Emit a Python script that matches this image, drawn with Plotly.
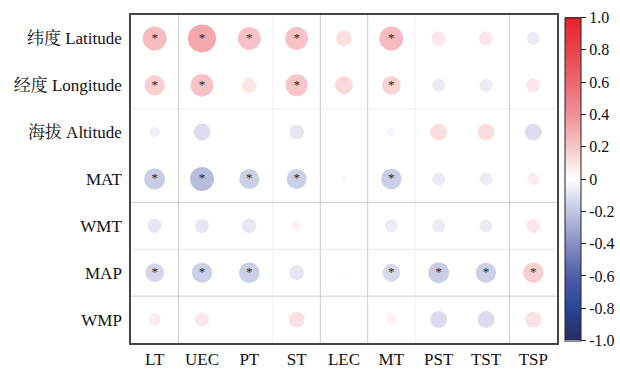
import plotly.graph_objects as go

rows = ["纬度 Latitude", "经度 Longitude", "海拔 Altitude", "MAT", "WMT", "MAP", "WMP"]
cols = ["LT", "UEC", "PT", "ST", "LEC", "MT", "PST", "TST", "TSP"]

r_lat = [0.34, 0.47, 0.31, 0.31, 0.15, 0.34, 0.12, 0.12, -0.10]
r_lon = [0.24, 0.31, 0.13, 0.29, 0.19, 0.21, -0.10, -0.10, 0.12]
r_alt = [-0.07, -0.17, 0.0, -0.13, 0.0, -0.04, 0.17, 0.17, -0.17]
r_mat = [-0.26, -0.34, -0.24, -0.24, 0.03, -0.25, -0.10, -0.10, 0.09]
r_wmt = [-0.12, -0.12, -0.12, 0.06, 0.0, -0.10, -0.10, -0.10, 0.12]
r_map = [-0.21, -0.24, -0.25, -0.13, 0.02, -0.19, -0.26, -0.24, 0.25]
r_wmp = [0.09, 0.12, 0.0, 0.15, 0.0, 0.07, -0.17, -0.17, 0.15]

sig_lat = [1, 1, 1, 1, 0, 1, 0, 0, 0]
sig_lon = [1, 1, 0, 1, 0, 1, 0, 0, 0]
sig_alt = [0, 0, 0, 0, 0, 0, 0, 0, 0]
sig_mat = [1, 1, 1, 1, 0, 1, 0, 0, 0]
sig_wmt = [0, 0, 0, 0, 0, 0, 0, 0, 0]
sig_map = [1, 1, 1, 0, 0, 1, 1, 1, 1]
sig_wmp = [0, 0, 0, 0, 0, 0, 0, 0, 0]

cbar_vals = [1.0, 0.8, 0.6, 0.4, 0.2, 0, -0.2, -0.4, -0.6, -0.8, -1.0]
cbar_text = ["1.0", "0.8", "0.6", "0.4", "0.2", "0", "-0.2", "-0.4", "-0.6", "-0.8", "-1.0"]

R = [r_lat, r_lon, r_alt, r_mat, r_wmt, r_map, r_wmp]
S = [sig_lat, sig_lon, sig_alt, sig_mat, sig_wmt, sig_map, sig_wmp]

xs, ys, vs, sz, tx = [], [], [], [], []
for i, row in enumerate(R):
    for j, v in enumerate(row):
        xs.append(j)
        ys.append(i)
        vs.append(v)
        sz.append(41 * abs(v) ** 0.5)
        tx.append("*" if S[i][j] else "")

colorscale = [
    [0.0, "#272C62"], [0.1, "#2B4597"], [0.2, "#4F5FA9"], [0.3, "#8890C4"],
    [0.4, "#C3C7E3"], [0.5, "#FFFFFF"], [0.6, "#F7C6C9"], [0.7, "#F09096"],
    [0.8, "#EC6870"], [0.9, "#E9434B"], [1.0, "#E6212A"],
]

fig = go.Figure()

# grid lines at cell boundaries
v_alpha = [0.9, 0.0, 0.35, 0.9, 0.9, 0.35, 0.0, 0.9]
h_alpha = [0.0, 0.35, 0.0, 0.9, 0.4, 0.9]
for k, a in enumerate(v_alpha):
    if a > 0:
        fig.add_shape(type="line", x0=k + 0.5, x1=k + 0.5, y0=-0.5, y1=6.5,
                      line=dict(color=f"rgba(200,200,200,{a})", width=1), layer="below")
for k, a in enumerate(h_alpha):
    if a > 0:
        fig.add_shape(type="line", x0=-0.5, x1=8.5, y0=k + 0.5, y1=k + 0.5,
                      line=dict(color=f"rgba(200,200,200,{a})", width=1), layer="below")

fig.add_trace(go.Scatter(
    x=xs, y=ys, mode="markers+text", text=tx, textposition="middle center",
    textfont=dict(family="Liberation Serif", size=13, color="#222222"),
    marker=dict(size=sz, color=vs, cmin=-1, cmax=1, colorscale=colorscale,
                line=dict(width=0),
                colorbar=dict(
                    x=1.019, xanchor="left", xpad=0, y=0.5, yanchor="middle",
                    len=0.985, lenmode="fraction", thickness=16, ypad=0,
                    outlinecolor="#222222", outlinewidth=1,
                    tickvals=cbar_vals, ticktext=cbar_text,
                    ticks="outside", ticklen=5, tickcolor="#222222",
                    tickfont=dict(family="Liberation Serif", size=16, color="#111111"),
                )),
    hoverinfo="skip", showlegend=False,
))

fig.update_xaxes(range=[-0.5, 8.5], tickvals=list(range(len(cols))), ticktext=cols,
                 showgrid=False, zeroline=False, showline=True, mirror=True,
                 linecolor="#444444", linewidth=1.5, ticks="", ticklabelstandoff=0,
                 tickfont=dict(family="Liberation Serif", size=17, color="#111111"))
fig.update_yaxes(range=[6.5, -0.5], tickvals=list(range(len(rows))), ticktext=rows,
                 showgrid=False, zeroline=False, showline=True, mirror=True,
                 linecolor="#444444", linewidth=1.5, ticks="", ticklabelstandoff=4,
                 tickfont=dict(family="Liberation Serif, Noto Serif CJK SC, Noto Sans CJK SC", size=17, color="#111111"))

fig.update_layout(width=620, height=372,
                  margin=dict(l=131, r=63, t=15, b=29, autoexpand=False),
                  plot_bgcolor="white", paper_bgcolor="white")

fig.write_html("out.html", config={"displayModeBar": False},
               post_script="document.body.style.margin='0';document.body.style.overflow='hidden';")
